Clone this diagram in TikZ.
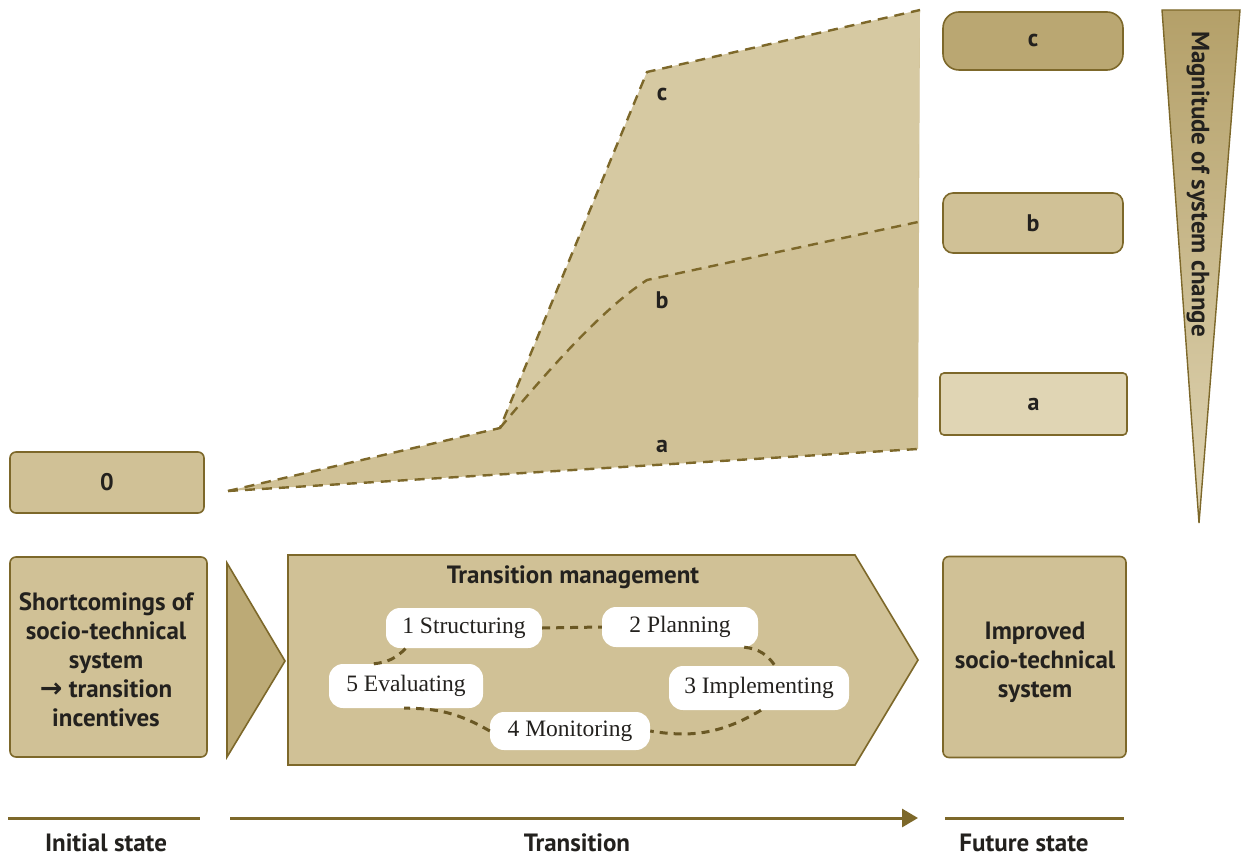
\documentclass[tikz,border=0pt]{standalone}
\usepackage{fontspec}
\setmainfont{Liberation Serif}
\newfontfamily\lab{PT Sans}
\newfontfamily\arr{DejaVu Sans}
\usetikzlibrary{arrows.meta,calc}
\definecolor{edge}{RGB}{125,104,42}
\definecolor{sand}{RGB}{208,193,150}
\definecolor{sandlt}{RGB}{224,213,180}
\definecolor{sanddk}{RGB}{180,160,105}
\definecolor{ink}{RGB}{35,33,30}
\begin{document}
\begin{tikzpicture}[x=1pt,y=-1pt,
  pencilbox/.style={draw=edge, line width=1.6pt, fill=sand, rounded corners=6pt},
  bigtext/.style={font=\lab\bfseries\fontsize{25}{29}\selectfont, text=ink, align=center},
  lettertext/.style={font=\lab\bfseries\fontsize{24}{26}\selectfont, text=ink},
  steptext/.style={font=\fontsize{23.5}{26}\selectfont, text=ink},
  blob/.style={fill=white, rounded corners=14pt, inner sep=0pt},
  dashline/.style={draw=edge, line width=2.4pt, dash pattern=on 10pt off 7pt},
  cycledash/.style={draw=edge!85!black, line width=3pt, dash pattern=on 8pt off 6pt},
  timeline/.style={draw=edge, line width=3pt},
  ]
\useasboundingbox (0,0) rectangle (1241,858);
\fill[white] (0,0) rectangle (1241,858);

% ---------- upper chart ----------
\coordinate (p0) at (228,491);
\coordinate (pk) at (500,428);
\coordinate (pc) at (647,72);
\coordinate (pcE) at (920,10);
\coordinate (pb) at (647,280);
\coordinate (pbE) at (918,222);
\coordinate (paE) at (918,449);

\fill[sand] (p0) -- (pk) -- (pc) -- (pcE) -- (paE) -- cycle;
\fill[sandlt, opacity=0.4] (pk) -- (pc) -- (pcE) -- (pbE) -- (pb) .. controls (600,310) and (540,380) .. (pk) -- cycle;

\draw[dashline] (p0) -- (paE);
\draw[dashline] (p0) -- (pk) -- (pc) -- (pcE);
\draw[dashline] (pk) .. controls (540,380) and (600,310) .. (pb) -- (pbE);

\node[lettertext] (lc) at (662,95) {c};
\node[lettertext] (lb) at (662,300) {b};
\node[lettertext] (la) at (662,446) {a};

\node[pencilbox, minimum width=194pt, minimum height=61pt, lettertext] (s0) at (107,482.5) {0};

\node[pencilbox, fill=sanddk!80!sand, rounded corners=16pt, minimum width=180pt, minimum height=58pt, lettertext] (rc) at (1033,41) {c};
\node[pencilbox, rounded corners=10pt, minimum width=180pt, minimum height=60pt, lettertext] (rb) at (1033,223) {b};
\node[pencilbox, fill=sandlt, rounded corners=4pt, minimum width=187pt, minimum height=62pt, lettertext] (ra) at (1033.5,404) {a};

% magnitude wedge
\shade[top color=sanddk, bottom color=sandlt, draw=edge, line width=1.4pt] (1162,10) -- (1240,10) -- (1199,523) -- cycle;
\node[bigtext, rotate=-90] (mag) at (1198,184) {Magnitude of system change};

% ---------- lower row ----------
\node[pencilbox, minimum width=197pt, minimum height=200pt] (short) at (108.5,657) {};
\node[bigtext] (shorttxt) at (106,660) {Shortcomings of\\socio-technical\\system\\{\arr\bfseries\fontsize{27}{29}\selectfont →} transition\\incentives};

\draw[edge, line width=1.6pt, fill=sanddk!70!sand] (227,563) -- (285,661) -- (227,757) -- cycle;

\draw[edge, line width=1.6pt, fill=sand] (288,555) -- (855,555) -- (918,660) -- (855,765) -- (288,765) -- cycle;
\node[bigtext] (tm) at (573,577) {Transition management};

\node[blob, steptext, minimum width=156pt, minimum height=40pt] (st1) at (464,628) {1 Structuring};
\node[blob, steptext, minimum width=156pt, minimum height=40pt] (st2) at (680,627) {2 Planning};
\node[blob, steptext, minimum width=180pt, minimum height=44pt] (st3) at (759,688) {3 Implementing};
\node[blob, steptext, minimum width=160pt, minimum height=38pt] (st4) at (570,731) {4 Monitoring};
\node[blob, steptext, minimum width=154pt, minimum height=44pt] (st5) at (406,686) {5 Evaluating};

\draw[cycledash] (st1.east) -- (st2.west);
\draw[cycledash] ($(st2.south east)+(-14,0)$) to[bend left=25] ($(st3.north)+(16,0)$);
\draw[cycledash] ($(st3.south)+(2,0)$) to[bend left=20] (st4.east);
\draw[cycledash] (st4.west) to[bend right=15] ($(st5.south)+(-2,0)$);
\draw[cycledash] ($(st5.north west)+(45,0)$) to[bend right=20] ($(st1.south west)+(20,0)$);

\node[pencilbox, minimum width=183pt, minimum height=201pt] (impr) at (1034.5,657) {};
\node[bigtext] (imprtxt) at (1035,662) {Improved\\socio-technical\\system};

% ---------- time line ----------
\coordinate (i0) at (8,818);  \coordinate (i1) at (200,818);
\coordinate (t0) at (230,818); \coordinate (t1) at (918,818);
\coordinate (f0) at (945,818); \coordinate (f1) at (1124,818);
\draw[timeline] (i0) -- (i1);
\draw[timeline, -{Triangle[length=16pt,width=18pt]}] (t0) -- (t1);
\draw[timeline] (f0) -- (f1);
\node[bigtext] (linit) at (106,843) {Initial state};
\node[bigtext] (ltrans) at (577,843) {Transition};
\node[bigtext] (lfut) at (1024,843) {Future state};
\end{tikzpicture}
\end{document}
